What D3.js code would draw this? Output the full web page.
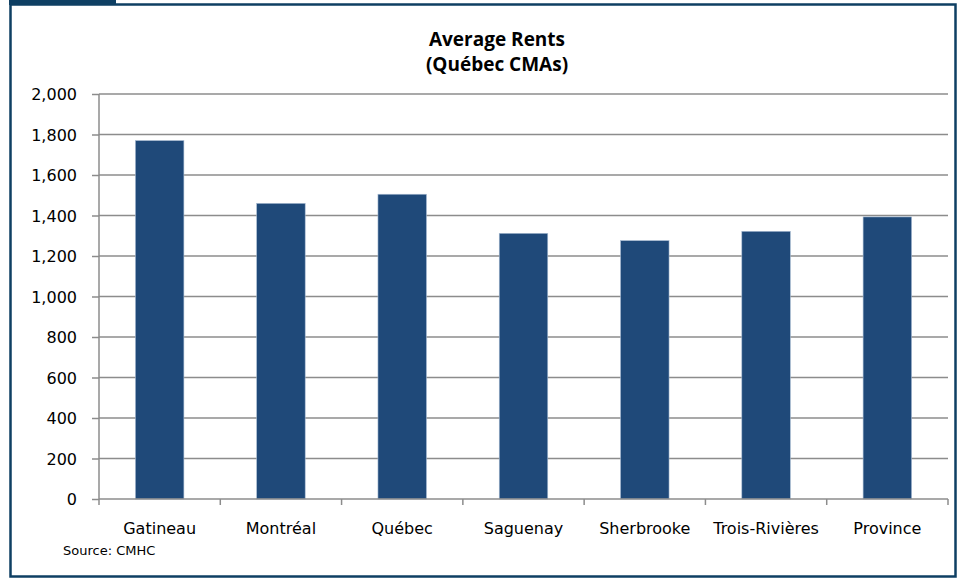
<!DOCTYPE html>
<html>
<head>
<meta charset="utf-8">
<script src="https://cdn.jsdelivr.net/npm/d3@7"></script>
<style>
  body { margin: 0; background: #fff; }
  text { font-family: "DejaVu Sans", sans-serif; fill: #000; }
</style>
</head>
<body>
<svg width="959" height="579"></svg>
<script>
var svg = d3.select("svg"),
	width = +svg.attr("width"),
	height = +svg.attr("height");

//chart data
var categories = ["Gatineau", "Montréal", "Québec", "Saguenay", "Sherbrooke", "Trois-Rivières", "Province"];
var rents = [1770, 1460, 1505, 1312, 1276, 1322, 1393];
var yTicks = [0, 200, 400, 600, 800, 1000, 1200, 1400, 1600, 1800, 2000];
var titleLines = ["Average Rents", "(Québec CMAs)"];

var margin = { left: 99, right: 11, top: 94, bottom: 80 };

var x = d3.scaleBand()
	.domain(categories)
	.range([margin.left, width - margin.right])
	.paddingInner(0.6)
	.paddingOuter(0.3);

var y = d3.scaleLinear()
	.domain([0, 2000])
	.range([height - margin.bottom, margin.top]);

//frame around the chart
svg.append("rect")
	.attr("x", 10.5).attr("y", 4.5)
	.attr("width", 945).attr("height", 572)
	.attr("fill", "none")
	.attr("stroke", "#0e3f63")
	.attr("stroke-width", 2.5);

//dark tab in the top left corner
svg.append("rect")
	.attr("x", 9).attr("y", 0)
	.attr("width", 107).attr("height", 5)
	.attr("fill", "#0e3f63");

//gridlines
svg.append("g")
	.selectAll("line")
	.data(yTicks.filter(function (d) { return d > 0; }))
	.enter().append("line")
	.attr("x1", margin.left).attr("x2", width - margin.right)
	.attr("y1", function (d) { return y(d); })
	.attr("y2", function (d) { return y(d); })
	.attr("stroke", "#8c8c8c")
	.attr("stroke-width", 1.5);

//bars
svg.append("g")
	.selectAll("rect")
	.data(categories)
	.enter().append("rect")
	.attr("x", function (d) { return x(d); })
	.attr("width", x.bandwidth())
	.attr("y", function (d, i) { return y(rents[i]); })
	.attr("height", function (d, i) { return y(0) - y(rents[i]); })
	.attr("fill", "#1f4979")
	.attr("stroke", "#a9bcd3")
	.attr("stroke-width", 0.6);

//y axis
var yAxis = svg.append("g")
	.attr("transform", "translate(" + margin.left + ",0)")
	.call(d3.axisLeft(y).tickValues(yTicks).tickSize(7).tickPadding(15)
		.tickFormat(d3.format(",")));

yAxis.attr("font-family", null);
yAxis.selectAll("text").style("font-size", "16px").attr("dy", "0.36em");

//x axis with ticks between categories
var bounds = categories.map(function (d) { return x(d) - x.step() * x.paddingInner() / 2; });
bounds.push(width - margin.right);
bounds[0] = margin.left;

var xAxis = svg.append("g");
xAxis.append("line")
	.attr("x1", margin.left).attr("x2", width - margin.right)
	.attr("y1", y(0)).attr("y2", y(0));
xAxis.selectAll(".tick")
	.data(bounds)
	.enter().append("line")
	.attr("class", "tick")
	.attr("x1", function (d) { return d; }).attr("x2", function (d) { return d; })
	.attr("y1", y(0)).attr("y2", y(0) + 6);
xAxis.selectAll("line")
	.attr("stroke", "#8c8c8c")
	.attr("stroke-width", 1.5);

xAxis.selectAll(".label")
	.data(categories)
	.enter().append("text")
	.attr("class", "label")
	.attr("x", function (d) { return x(d) + x.bandwidth() / 2; })
	.attr("y", y(0) + 35)
	.attr("text-anchor", "middle")
	.style("font-size", "16px")
	.text(function (d) { return d; });

yAxis.select(".domain").attr("stroke", "#8c8c8c").attr("stroke-width", 1.5)
	.attr("d", "M" + 0 + "," + y(2000) + "V" + y(0));
yAxis.selectAll(".tick line").attr("stroke", "#8c8c8c").attr("stroke-width", 1.5);

//title
svg.append("g")
	.selectAll("text")
	.data(titleLines)
	.enter().append("text")
	.attr("x", 497)
	.attr("y", function (d, i) { return 46 + i * 25; })
	.attr("text-anchor", "middle")
	.style("font-family", "'Open Sans', sans-serif")
	.style("font-size", "19px")
	.style("font-weight", "bold")
	.text(function (d) { return d; });

//source note
svg.append("text")
	.attr("x", 63).attr("y", 555)
	.style("font-size", "13px")
	.text("Source: CMHC");
</script>
</body>
</html>
